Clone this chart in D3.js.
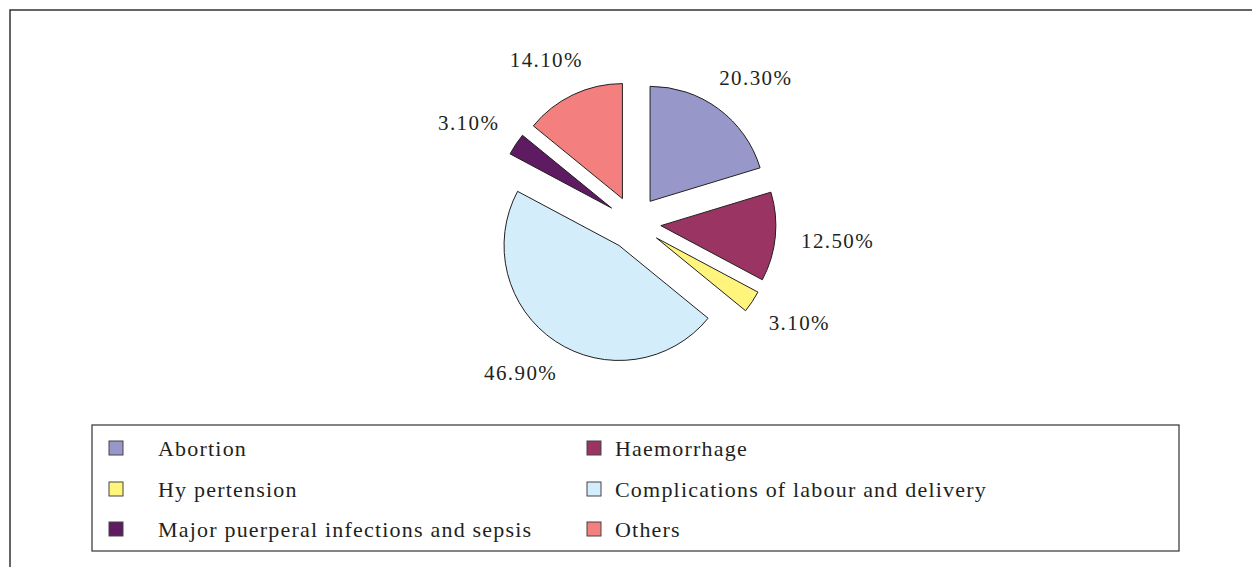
<!DOCTYPE html>
<html>
<head>
<meta charset="utf-8">
<script src="https://cdn.jsdelivr.net/npm/d3@7"></script>
<style>
  body { margin: 0; background: #fff; }
</style>
</head>
<body>
<div id="chart"></div>
<script>
// chart values
var causes = ["Abortion", "Haemorrhage", "Hy pertension",
  "Complications of labour and delivery",
  "Major puerperal infections and sepsis", "Others"];
var shares = [20.3, 12.5, 3.1, 46.9, 3.1, 14.1];
var colours = ["#9797ca", "#9a3563", "#fff57c", "#d3edfa", "#5f1b61", "#f37f7f"];

// legend reads row by row, two columns
var legendOrder = [0, 1, 2, 3, 4, 5];

var svgWidth = 1252;
var svgHeight = 567;
var serif = "'Liberation Serif'";

var svg = d3.select("#chart")
  .append("svg")
  .attr("width", svgWidth)
  .attr("height", svgHeight);

// outer frame (runs off the right and bottom)
svg.append("rect")
  .attr("x", 10)
  .attr("y", 10)
  .attr("width", 1300)
  .attr("height", 600)
  .attr("fill", "none")
  .attr("stroke", "#333")
  .attr("stroke-width", 1.5);

var cx = 634, cy = 223;
var radius = 115;
var explode = 27;

var pie = d3.pie().sort(null).value(d => d);
var arcs = pie(shares);

var arc = d3.arc().innerRadius(0).outerRadius(radius);

var pieGroup = svg.append("g")
  .attr("transform", `translate(${cx}, ${cy})`);

function dir(d) {
  var a = (d.startAngle + d.endAngle) / 2;
  return [Math.sin(a), -Math.cos(a)];
}

pieGroup.selectAll("path")
  .data(arcs)
  .enter()
  .append("path")
  .attr("d", arc)
  .attr("transform", function(d) {
    var v = dir(d);
    return `translate(${v[0] * explode}, ${v[1] * explode})`;
  })
  .attr("fill", (d, i) => colours[i])
  .attr("stroke", "#231f20")
  .attr("stroke-width", 1);

// percentage labels, pushed out past the exploded slice
var labelR = radius + explode + 26;
pieGroup.selectAll("text.pct")
  .data(arcs)
  .enter()
  .append("text")
  .attr("class", "pct")
  .style("font-family", serif)
  .style("font-size", "21px")
  .style("letter-spacing", "1.4px")
  .style("fill", "#231f20")
  .attr("text-anchor", "middle")
  .attr("dominant-baseline", "central")
  .text(d => d3.format(".2f")(d.data) + "%")
  .each(function(d) {
    var v = dir(d);
    var w = this.getComputedTextLength();
    var x = v[0] * labelR + v[0] * w / 2;
    var y = v[1] * labelR + v[1] * 12;
    d3.select(this).attr("x", x).attr("y", y);
  });

// legend
var legend = svg.append("g");

legend.append("rect")
  .attr("x", 92)
  .attr("y", 425)
  .attr("width", 1087)
  .attr("height", 126)
  .attr("fill", "none")
  .attr("stroke", "#333")
  .attr("stroke-width", 1.2);

var colX = [109, 587];
var rowY = [448, 489, 529];

var items = legend.selectAll("g.item")
  .data(legendOrder)
  .enter()
  .append("g")
  .attr("class", "item")
  .attr("transform", (d, i) => `translate(${colX[i % 2]}, ${rowY[Math.floor(i / 2)]})`);

items.append("rect")
  .attr("x", 0)
  .attr("y", -7)
  .attr("width", 14)
  .attr("height", 14)
  .attr("fill", d => colours[d])
  .attr("stroke", "#444")
  .attr("stroke-width", 1);

items.append("text")
  .attr("x", (d, i) => i % 2 === 0 ? 49 : 28)
  .attr("y", 0)
  .attr("dominant-baseline", "central")
  .style("font-family", serif)
  .style("font-size", "22px")
  .style("letter-spacing", "1.2px")
  .style("fill", "#231f20")
  .text(d => causes[d]);
</script>
</body>
</html>
